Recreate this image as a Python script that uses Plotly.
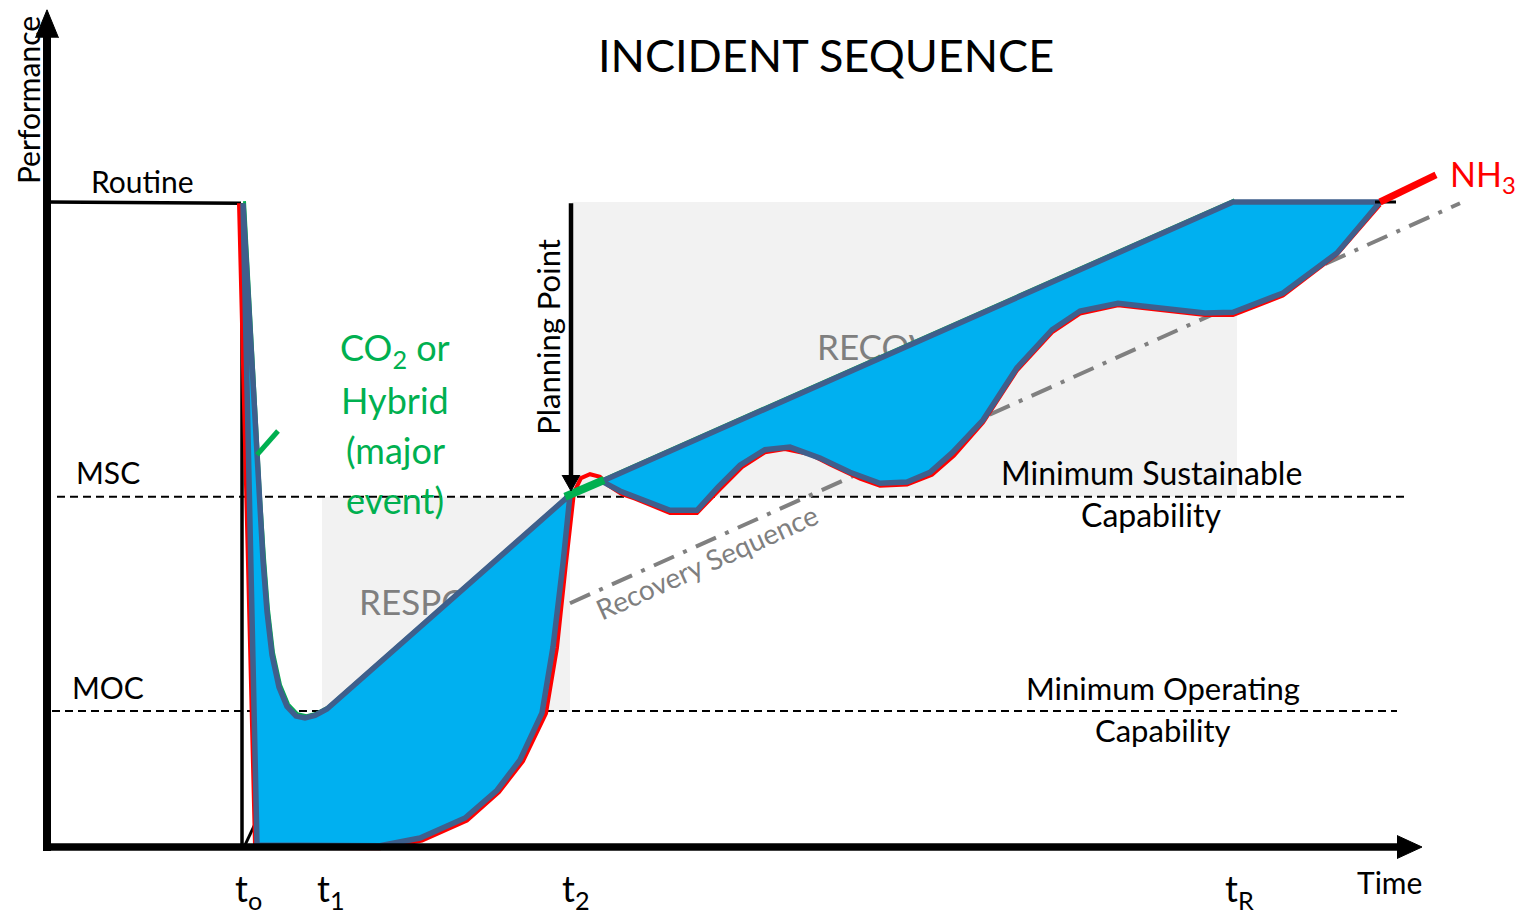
import plotly.graph_objects as go

# ---------------- data ----------------
# Performance levels (Routine = 100, zero = no capability)
ROUTINE = 100.0
MSC = 54.3
MOC = 21.1

# event times (time axis in arbitrary units)
event_labels = ["t<sub>o</sub>", "t<sub>1</sub>", "t<sub>2</sub>", "t<sub>R</sub>"]
event_times = [242, 325, 570, 1233]

# Response phase – major event (upper) path and lower path
resp_upper_t = [243, 247, 251, 255, 259, 263, 267, 272, 279, 287, 296, 305, 315, 327, 570]
resp_upper_p = [99.8, 88.0, 76.0, 64.5, 54.0, 44.5, 36.5, 29.8, 24.8, 21.8, 20.3, 20.0, 20.4, 21.4, 54.6]
resp_lower_t = [243, 257, 380, 420, 465, 497, 520, 542, 553, 563, 570]
resp_lower_p = [99.8, 0.3, 0.2, 1.4, 4.5, 8.8, 13.5, 20.8, 31.0, 44.0, 54.6]

# Recovery phase – upper path and lower (wavy) path
reco_upper_t = [570, 602, 1233, 1380]
reco_upper_p = [54.6, 56.7, 100.0, 100.0]
reco_lower_t = [1380, 1337, 1283, 1233, 1205, 1118, 1080, 1052, 1017, 983, 952, 930,
                907, 880, 850, 820, 790, 765, 740, 718, 697, 670, 633, 620, 602]
reco_lower_p = [100.0, 92.1, 85.9, 82.9, 82.8, 84.3, 83.1, 80.2, 74.3, 66.2, 61.1, 58.1,
                56.6, 56.4, 58.1, 60.3, 62.0, 61.6, 59.2, 55.8, 52.2, 52.2, 54.3, 55.2, 56.7]

# NH3 trajectory (red)
nh3_t = [239, 249, 255, 260, 380, 422, 467, 499, 523, 546, 557, 566, 571, 574, 581, 590,
         600, 608, 622, 635, 670, 697, 720, 742, 765, 785, 810, 830, 860, 880, 907, 932,
         954, 983, 1017, 1052, 1080, 1118, 1205, 1233, 1283, 1337, 1380]
nh3_p = [99.8, 38.3, 0.3, -0.1, -0.2, 1.0, 4.1, 8.5, 13.3, 20.7, 30.9, 44.0, 51.5, 55.0,
         57.2, 57.8, 57.4, 56.1, 54.7, 54.0, 51.8, 51.8, 55.5, 58.9, 61.2, 61.7, 60.9, 59.3,
         57.1, 56.0, 56.2, 57.7, 60.7, 65.8, 73.9, 79.8, 82.7, 84.0, 82.5, 82.5, 85.5, 91.9, 99.6]
nh3_tail_t = [1380, 1436]
nh3_tail_p = [100.0, 104.2]

# Recovery sequence (planned) line
rec_seq_t = [570, 1460]
rec_seq_p = [37.8, 99.8]

# Routine level before the incident
routine_t = [47, 241]
routine_p = [100.0, 99.8]

FONT = "Lato, Carlito, sans-serif"
BLUE_FILL = "#00b0f0"
OUTLINE = "#3f5f8c"
GREEN = "#00b050"
RED = "#ff0000"
GREY = "#7f7f7f"

# pixel -> data unit conversions of the layout
Y_RANGE = [-10.85, 131.32]
PX_PER_P = 917 / (Y_RANGE[1] - Y_RANGE[0])

fig = go.Figure()

# phase background boxes
fig.add_shape(type="rect", x0=322, x1=event_times[2], y0=MOC, y1=MSC,
              fillcolor="#f2f2f2", line_width=0, layer="below")
fig.add_shape(type="rect", x0=event_times[2] + 2, x1=event_times[3] + 4, y0=MSC, y1=ROUTINE,
              fillcolor="#f2f2f2", line_width=0, layer="below")


def line(x, y, color, width, dash=None):
    fig.add_trace(go.Scatter(x=x, y=y, mode="lines", hoverinfo="skip",
                             line=dict(color=color, width=width, dash=dash)))


def head(tip_x, tip_y, direction, length_px, half_w_px, color="black"):
    """filled triangular arrow head; direction in {'up','down','right'}"""
    L = length_px
    w = half_w_px
    if direction == "up":
        xs = [tip_x - w, tip_x, tip_x + w]
        ys = [tip_y - L / PX_PER_P, tip_y, tip_y - L / PX_PER_P]
    elif direction == "down":
        xs = [tip_x - w, tip_x, tip_x + w]
        ys = [tip_y + L / PX_PER_P, tip_y, tip_y + L / PX_PER_P]
    else:
        xs = [tip_x - L, tip_x, tip_x - L]
        ys = [tip_y + w / PX_PER_P, tip_y, tip_y - w / PX_PER_P]
    fig.add_trace(go.Scatter(x=xs, y=ys, mode="lines", fill="toself", fillcolor=color,
                             hoverinfo="skip", line=dict(color=color, width=1)))


# MSC / MOC dashed levels
line([57, 1407], [MSC, MSC], "black", 2, "8px,5px")
line([52, 1397], [MOC, MOC], "black", 2, "8px,5px")

# phase labels (partially hidden behind the fill)
for x, y, txt in [(359, 37.4, "RESPONSE"), (817, 76.9, "RECOVERY")]:
    fig.add_trace(go.Scatter(x=[x], y=[y], mode="text", text=[txt], hoverinfo="skip",
                             textposition="middle right",
                             textfont=dict(family=FONT, size=35, color=GREY)))

# recovery sequence line
line(rec_seq_t, rec_seq_p, "#808080", 4, "22px,10px,4px,10px")

# routine line and t0 marker
line(routine_t, routine_p, "black", 3.5)
line([event_times[0], event_times[0]], [99.8, 0.3], "black", 3.5)
line([245, 256], [0.3, 3.9], "black", 3)

# NH3 red path (beneath outline)
line(nh3_t, nh3_p, RED, 4)

# CO2 / hybrid green path (beneath outline)
co2_t = [t + 1.5 for t in resp_upper_t + reco_upper_t[1:3]]
co2_p = [p + 0.35 for p in resp_upper_p + reco_upper_p[1:3]]
line(co2_t, co2_p, GREEN, 3)

# filled regions
fig.add_trace(go.Scatter(x=resp_upper_t + resp_lower_t[::-1], y=resp_upper_p + resp_lower_p[::-1],
                         mode="lines", fill="toself", fillcolor=BLUE_FILL, hoverinfo="skip",
                         line=dict(color=OUTLINE, width=5.5)))
fig.add_trace(go.Scatter(x=reco_upper_t + reco_lower_t[1:], y=reco_upper_p + reco_lower_p[1:],
                         mode="lines", fill="toself", fillcolor=BLUE_FILL, hoverinfo="skip",
                         line=dict(color=OUTLINE, width=5.5)))

# overlays
line([565, 604], [54.3, 56.9], GREEN, 8)
line([257, 278], [60.8, 64.5], GREEN, 5)
line([1375, 1396], [100.0, 100.0], "black", 3)
line(nh3_tail_t, nh3_tail_p, RED, 7)

# axes with arrow heads
line([47, 47], [-0.6, 126.0], "black", 8)
head(47, 129.8, "up", 28, 11.5)
line([44, 1400], [0, 0], "black", 7.5)
head(1422, 0, "right", 25, 11.5)

# planning point arrow
line([event_times[2] + 1, event_times[2] + 1], [99.8, 57.5], "black", 4.5)
head(event_times[2] + 1, 55.2, "down", 16, 9)

ann = []


def text(x, y, s, size, color="black", angle=0, xanchor="center"):
    ann.append(dict(x=x, y=y, xref="x", yref="y", text=s, showarrow=False, textangle=angle,
                    xanchor=xanchor, yanchor="middle",
                    font=dict(family=FONT, size=size, color=color)))


text(826, 122.8, "INCIDENT SEQUENCE", 45)
text(28, 115.8, "Performance", 30, angle=-90)
text(142, 103.3, "Routine", 30)
text(108, 58.1, "MSC", 30)
text(108, 24.8, "MOC", 30)
text(1151, 58.1, "Minimum Sustainable", 32)
text(1151, 51.5, "Capability", 32)
text(1163, 24.7, "Minimum Operating", 31)
text(1163, 18.1, "Capability", 31)
text(548, 79.1, "Planning Point", 31, angle=-90)
for y, s in zip([77.1, 69.3, 61.6, 53.8], ["CO<sub>2</sub> or", "Hybrid", "(major", "event)"]):
    text(395, y, s, 36, GREEN)
text(706, 44.2, "Recovery Sequence", 28, GREY, angle=-24.2)
text(1483, 104.0, "NH<sub>3</sub>", 34, RED)
for t, lab in zip(event_times, event_labels):
    text(t + 6, -6.7, lab, 36)
text(1389, -5.4, "Time", 30)

fig.update_layout(
    width=1536, height=917,
    margin=dict(l=0, r=0, t=0, b=0),
    paper_bgcolor="white", plot_bgcolor="white",
    showlegend=False,
    annotations=ann,
    xaxis=dict(range=[0, 1536], visible=False, fixedrange=True),
    yaxis=dict(range=Y_RANGE, visible=False, fixedrange=True),
)

fig.write_html("out.html", config={"displayModeBar": False},
               post_script="document.body.style.margin='0';document.body.style.overflow='hidden';")
